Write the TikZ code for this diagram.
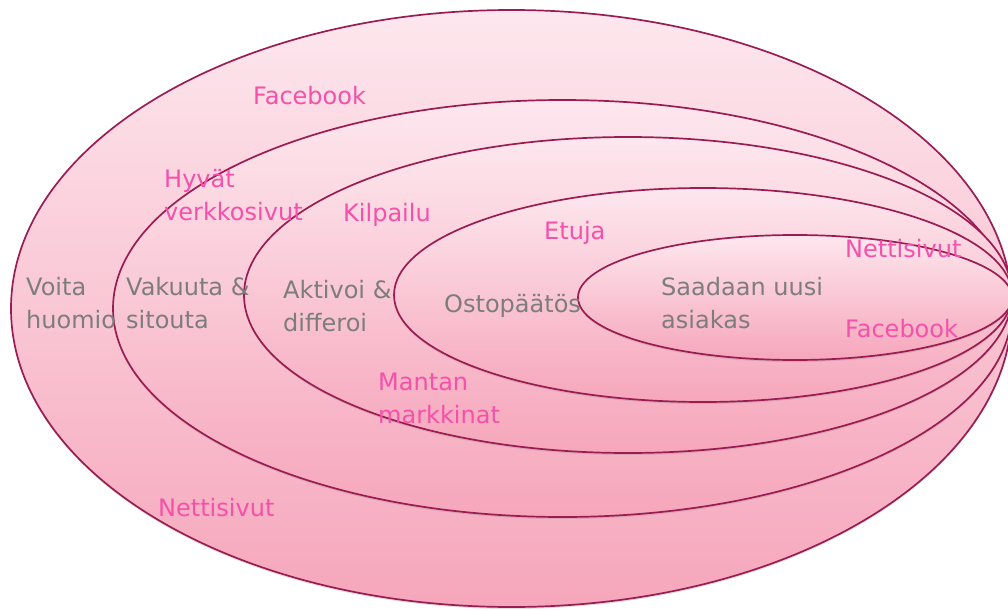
\documentclass[tikz,border=0pt]{standalone}
\usepackage{fontspec}
\setmainfont{DejaVu Sans}
\usetikzlibrary{shadows}
\definecolor{ringline}{RGB}{155,28,82}
\definecolor{ringtop}{RGB}{253,231,238}
\definecolor{ringbot}{RGB}{246,166,187}
\definecolor{stagetext}{RGB}{125,125,125}
\definecolor{channeltext}{RGB}{245,80,170}
\begin{document}
\begin{tikzpicture}[x=1pt,y=-1pt,
  ring/.style={draw=ringline, line width=1.7pt, top color=ringtop, bottom color=ringbot,
    drop shadow={shadow xshift=0pt, shadow yshift=-2pt, opacity=0.25}},
  stage/.style={text=stagetext, font=\fontsize{24}{33}\selectfont, align=left, anchor=base west, inner sep=0pt},
  channel/.style={stage, text=channeltext}]
\useasboundingbox (0,0) rectangle (1008,610);
\clip (0,0) rectangle (1008,610);
\path[ring] (511.5,308.5) ellipse [x radius=500.5pt, y radius=298.5pt];
\path[ring] (562.5,308.5) ellipse [x radius=449.5pt, y radius=208.5pt];
\path[ring] (628,295) ellipse [x radius=384pt, y radius=158pt];
\path[ring] (703,295) ellipse [x radius=309pt, y radius=107pt];
\path[ring] (795,297.5) ellipse [x radius=217pt, y radius=62.5pt];

\node[stage] (voita) at (26,328) {Voita\\huomio};
\node[stage] (vakuuta) at (126,328) {Vakuuta \&\\sitouta};
\node[stage] (aktivoi) at (283,331) {Aktivoi \&\\differoi};
\node[stage] (osto) at (444,312) {Ostopäätös};
\node[stage] (saadaan) at (661,328) {Saadaan uusi\\asiakas};

\node[channel] (fb1) at (253,104) {Facebook};
\node[channel] (hyvat) at (164,220) {Hyvät\\verkkosivut};
\node[channel] (kilpailu) at (343,221) {Kilpailu};
\node[channel] (etuja) at (544,239) {Etuja};
\node[channel] (netti1) at (845,257) {Nettisivut};
\node[channel] (fb2) at (845,337) {Facebook};
\node[channel] (mantan) at (378,423) {Mantan\\markkinat};
\node[channel] (netti2) at (158,516) {Nettisivut};
\end{tikzpicture}
\end{document}
